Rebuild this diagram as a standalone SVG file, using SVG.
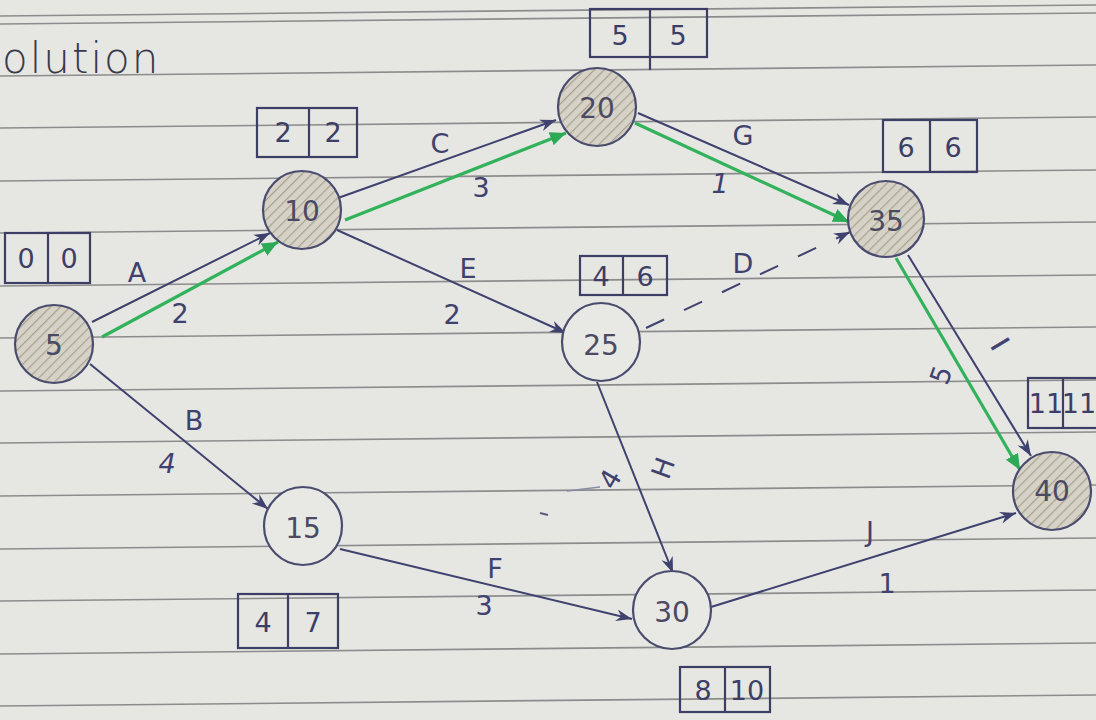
<svg xmlns="http://www.w3.org/2000/svg" width="1096" height="720" viewBox="0 0 1096 720">
<defs>
<style>
.paper{fill:#e6e6e3}
.rule{stroke:#8c8c8c;stroke-width:1.6}
.node{stroke:#4a4c6e;stroke-width:2.2}
.plain{fill:#e8e8e5}
.shaded{fill:url(#hatch)}
.nl{font-family:"DejaVu Sans",sans-serif;font-size:28px;fill:#4a4a62;text-anchor:middle;dominant-baseline:central}
.box{fill:none;stroke:#3c3e66;stroke-width:2.2}
.bt{font-family:"DejaVu Sans",sans-serif;font-size:27px;fill:#3c3e66;text-anchor:middle;dominant-baseline:central}
.e{stroke:#3f416e;stroke-width:2;fill:none;marker-end:url(#ab)}
.g{stroke:#33b25c;stroke-width:3.2;fill:none;marker-end:url(#ag)}
.d{stroke:#3f416e;stroke-width:2;fill:none;stroke-dasharray:20 22;marker-end:url(#ab)}
.lb{font-family:"DejaVu Sans",sans-serif;font-size:27px;fill:#3f416e;text-anchor:middle;dominant-baseline:central}
</style>
<pattern id="hatch" patternUnits="userSpaceOnUse" width="7" height="7" patternTransform="rotate(45)">
<rect width="7" height="7" fill="#d6d2c8"/>
<line x1="0" y1="0" x2="0" y2="7" stroke="#a9a28e" stroke-width="2.5"/>
</pattern>
<marker id="ab" markerUnits="userSpaceOnUse" markerWidth="18" markerHeight="14" refX="16" refY="7" orient="auto">
<path d="M0,1 L16,7 L0,13 L5,7 z" fill="#3f416e"/>
</marker>
<marker id="ag" markerUnits="userSpaceOnUse" markerWidth="18" markerHeight="16" refX="16" refY="8" orient="auto">
<path d="M0,1 L16,8 L0,15 z" fill="#2ea955"/>
</marker>
</defs>
<rect class="paper" x="0" y="0" width="1096" height="720"/>
<g id="rules">
<line class="rule" x1="0" y1="16" x2="1096" y2="5"/>
<line class="rule" x1="0" y1="24" x2="1096" y2="13"/>
<line class="rule" x1="0" y1="76" x2="1096" y2="65"/>
<line class="rule" x1="0" y1="128" x2="1096" y2="117"/>
<line class="rule" x1="0" y1="181" x2="1096" y2="170"/>
<line class="rule" x1="0" y1="233" x2="1096" y2="222"/>
<line class="rule" x1="0" y1="286" x2="1096" y2="275"/>
<line class="rule" x1="0" y1="338" x2="1096" y2="327"/>
<line class="rule" x1="0" y1="391" x2="1096" y2="380"/>
<line class="rule" x1="0" y1="443" x2="1096" y2="432"/>
<line class="rule" x1="0" y1="496" x2="1096" y2="485"/>
<line class="rule" x1="0" y1="549" x2="1096" y2="538"/>
<line class="rule" x1="0" y1="601" x2="1096" y2="590"/>
<line class="rule" x1="0" y1="654" x2="1096" y2="643"/>
<line class="rule" x1="0" y1="706" x2="1096" y2="695"/>
</g>
<text x="2" y="73" font-family="DejaVu Sans, sans-serif" font-size="42" font-weight="300" fill="#3a3a4a" letter-spacing="2">olution</text>
<g id="connectors">
<line class="e" x1="92" y1="322" x2="270" y2="233"/>
<line class="g" x1="102" y1="337" x2="278" y2="242"/>
<line class="e" x1="338" y1="198" x2="556" y2="120"/>
<line class="g" x1="345" y1="220" x2="566" y2="133"/>
<line class="e" x1="337" y1="230" x2="566" y2="333"/>
<line class="e" x1="638" y1="113" x2="849" y2="205"/>
<line class="g" x1="635" y1="123" x2="849" y2="222"/>
<line class="d" x1="646" y1="328" x2="850" y2="232"/>
<line class="e" x1="908" y1="255" x2="1031" y2="456"/>
<line class="g" x1="896" y1="258" x2="1020" y2="470"/>
<line class="e" x1="90" y1="364" x2="268" y2="509"/>
<line class="e" x1="340" y1="549" x2="632" y2="619"/>
<line class="e" x1="597" y1="382" x2="673" y2="573"/>
<line class="e" x1="711" y1="607" x2="1016" y2="513"/>
<line x1="540" y1="513" x2="548" y2="515" stroke="#5a5c80" stroke-width="2"/>
<line x1="567" y1="491" x2="600" y2="487" stroke="#8a8ca8" stroke-width="1.5"/>
<text class="lb" x="137" y="272">A</text>
<text class="lb" x="180" y="313">2</text>
<text class="lb" x="440" y="143">C</text>
<text class="lb" x="481" y="187">3</text>
<text class="lb" x="743" y="135">G</text>
<text class="lb" x="720" y="183" font-style="italic">1</text>
<text class="lb" x="468" y="268">E</text>
<text class="lb" x="452" y="314">2</text>
<text class="lb" x="743" y="263">D</text>
<text class="lb" x="1000" y="344" font-family="DejaVu Serif, serif" font-size="44" stroke="#3f416e" stroke-width="0.6" transform="rotate(59 1000 344)">I</text>
<text class="lb" x="941" y="375" transform="rotate(-70 941 375)">5</text>
<text class="lb" x="194" y="420">B</text>
<text class="lb" x="167" y="463" font-style="italic">4</text>
<text class="lb" x="495" y="568">F</text>
<text class="lb" x="484" y="605">3</text>
<text class="lb" x="610" y="479" font-size="30" transform="rotate(-60 610 479)">4</text>
<text class="lb" x="663" y="468" transform="rotate(-70 663 468)">H</text>
<text class="lb" x="870" y="531">J</text>
<text class="lb" x="887" y="583">1</text>
</g>
<g id="n5"><circle class="node shaded" cx="54" cy="344" r="39"/><text class="nl" x="54" y="345" font-size="32">5</text>
<rect class="box" x="5" y="233" width="85" height="50"/><line class="box" x1="48" y1="233" x2="48" y2="283"/><text class="bt" x="26" y="258" font-size="22">0</text><text class="bt" x="69" y="258" font-size="22">0</text></g>
<g id="n10"><circle class="node shaded" cx="302" cy="210" r="39"/><text class="nl" x="302" y="211">10</text>
<rect class="box" x="257" y="108" width="100" height="49"/><line class="box" x1="309" y1="108" x2="309" y2="157"/><text class="bt" x="283" y="132">2</text><text class="bt" x="333" y="132">2</text></g>
<g id="n20"><circle class="node shaded" cx="597" cy="107" r="39"/><text class="nl" x="597" y="108">20</text>
<rect class="box" x="590" y="9" width="117" height="48"/><line class="box" x1="650" y1="9" x2="650" y2="70"/><text class="bt" x="620" y="35">5</text><text class="bt" x="678" y="35">5</text></g>
<g id="n35"><circle class="node shaded" cx="886" cy="219" r="38"/><text class="nl" x="886" y="221">35</text>
<rect class="box" x="883" y="120" width="94" height="52"/><line class="box" x1="930" y1="120" x2="930" y2="172"/><text class="bt" x="906" y="147">6</text><text class="bt" x="953" y="147">6</text></g>
<g id="n25"><circle class="node plain" cx="601" cy="342" r="39"/><text class="nl" x="601" y="345">25</text>
<rect class="box" x="580" y="256" width="87" height="39"/><line class="box" x1="623" y1="256" x2="623" y2="295"/><text class="bt" x="601" y="276" font-size="25">4</text><text class="bt" x="645" y="276" font-size="25">6</text></g>
<g id="n40"><circle class="node shaded" cx="1052" cy="491" r="39"/><text class="nl" x="1052" y="491">40</text>
<rect class="box" x="1028" y="378" width="80" height="50"/><line class="box" x1="1063" y1="378" x2="1063" y2="428"/><text class="bt" x="1046" y="403" font-size="18">11</text><text class="bt" x="1079" y="403" font-size="18">11</text></g>
<g id="n15"><circle class="node plain" cx="303" cy="526" r="39"/><text class="nl" x="303" y="528" font-size="30">15</text>
<rect class="box" x="238" y="594" width="100" height="54"/><line class="box" x1="288" y1="594" x2="288" y2="648"/><text class="bt" x="263" y="622">4</text><text class="bt" x="313" y="622">7</text></g>
<g id="n30"><circle class="node plain" cx="672" cy="610" r="39"/><text class="nl" x="672" y="612">30</text>
<rect class="box" x="680" y="667" width="90" height="45"/><line class="box" x1="725" y1="667" x2="725" y2="712"/><text class="bt" x="703" y="690" font-size="24">8</text><text class="bt" x="747" y="690" font-size="24">10</text></g>
</svg>
